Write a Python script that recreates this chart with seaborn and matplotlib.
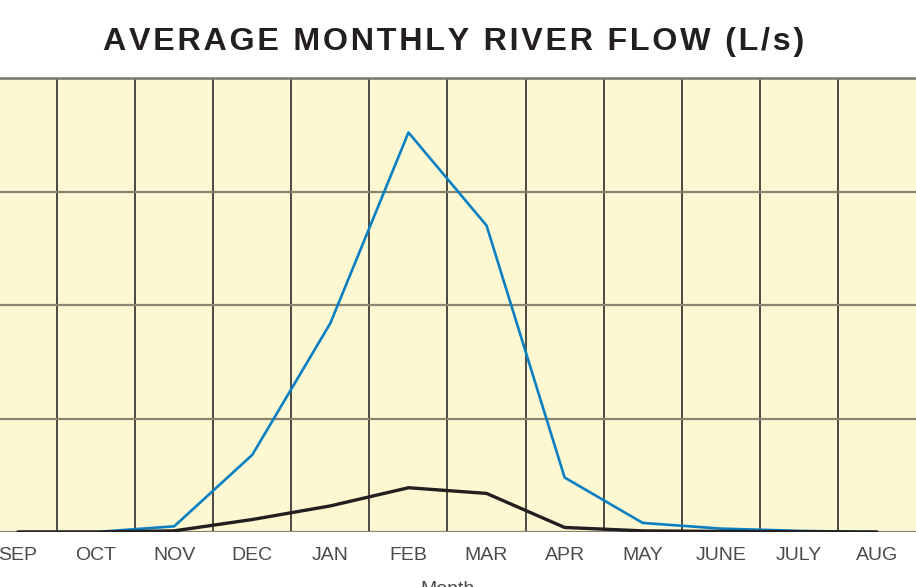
import pandas as pd
import seaborn as sns
import matplotlib.pyplot as plt

# Dados (L/s)
months = ["SEP", "OCT", "NOV", "DEC", "JAN", "FEB", "MAR", "APR", "MAY", "JUNE", "JULY", "AUG"]
flow_blue = [0, 0, 5, 68, 184, 352, 270, 48, 8, 3, 1, 0]
flow_black = [0, 0, 1, 11, 23, 39, 34, 4, 1, 0.5, 0.3, 0]
y_ticks = [0, 100, 200, 300, 400]
title = "AVERAGE MONTHLY RIVER FLOW (L/s)"

df = pd.DataFrame({
    "Month": months * 2,
    "Flow": flow_blue + flow_black,
    "Series": ["blue"] * len(months) + ["black"] * len(months),
})
df["pos"] = list(range(len(months))) * 2

sns.set_style("white")
plt.rcParams["font.family"] = ["Liberation Sans", "DejaVu Sans"]

fig = plt.figure(figsize=(9.16, 5.87), dpi=100)
ax = fig.add_axes([-21 / 916, 55 / 587, 937 / 916, 454 / 587])
ax.set_facecolor("#fdf8d2")

sns.lineplot(data=df, x="pos", y="Flow", hue="Series",
             palette={"blue": "#0a7fc2", "black": "#231f20"},
             hue_order=["blue", "black"], linewidth=2, legend=False, ax=ax)
for line, lw in zip(ax.get_lines(), [1.9, 2.4]):
    line.set_linewidth(lw)

ax.set_xlim(-0.5, 11.5)
ax.set_ylim(0, 400)
ax.set_xticks(range(len(months)))
ax.set_xticklabels(months, fontsize=14, color="#4a4a4a")
ax.set_xticks([i + 0.5 for i in range(len(months) - 1)], minor=True)
ax.set_yticks(y_ticks)
ax.set_yticklabels([])  # rótulos do eixo y ficam fora da imagem
ax.tick_params(axis="x", which="both", length=0, pad=11)
ax.tick_params(axis="y", length=0)
ax.grid(axis="x", which="minor", color="#2b2b2b", linewidth=1.2)
ax.grid(axis="y", which="major", color="#8a8572", linewidth=1.6)
ax.set_axisbelow(True)
for s in ["left", "right", "bottom"]:
    ax.spines[s].set_visible(False)
ax.spines["top"].set_color("#77756c")
ax.spines["top"].set_linewidth(1.8)

ax.set_xlabel("Month", fontsize=14, color="#4a4a4a", labelpad=12)
ax.set_ylabel("")

# espaçamento entre letras com hair space
spaced = "\u200a".join(title)
fig.text(454 / 916, 1 - 42 / 587, spaced, ha="center", va="center",
         fontsize=23.2, fontweight="bold", color="#231f20")

plt.savefig("out.png", dpi=100)
